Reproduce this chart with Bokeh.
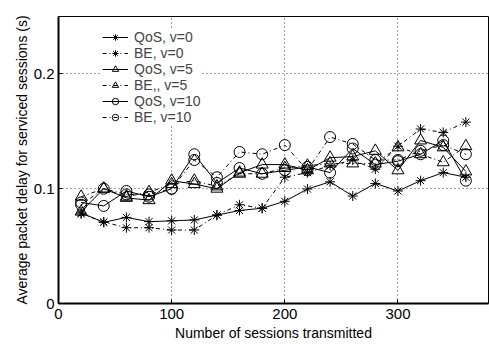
from bokeh.plotting import figure
from bokeh.models import FixedTicker, Range1d, Legend
from bokeh.embed import file_html
from bokeh.resources import INLINE

sessions = [20, 40, 60, 80, 100, 120, 140, 160, 180, 200, 220, 240, 260, 280, 300, 320, 340, 360]

qos_v0 = [0.079, 0.0707, 0.075, 0.0713, 0.072, 0.0728, 0.077, 0.081, 0.083, 0.089, 0.0997, 0.106, 0.0936, 0.1046, 0.098, 0.107, 0.114, 0.110]
be_v0 = [0.078, 0.071, 0.066, 0.066, 0.064, 0.064, 0.077, 0.086, 0.083, 0.110, 0.114, 0.120, 0.125, 0.117, 0.137, 0.152, 0.149, 0.158]
qos_v5 = [0.080, 0.100, 0.092, 0.090, 0.107, 0.104, 0.100, 0.114, 0.121, 0.121, 0.116, 0.127, 0.128, 0.133, 0.116, 0.142, 0.136, 0.115]
be_v5 = [0.093, 0.100, 0.093, 0.097, 0.104, 0.107, 0.102, 0.113, 0.113, 0.118, 0.120, 0.122, 0.122, 0.122, 0.136, 0.130, 0.123, 0.137]
qos_v10 = [0.088, 0.085, 0.098, 0.093, 0.100, 0.130, 0.105, 0.118, 0.113, 0.116, 0.119, 0.114, 0.135, 0.121, 0.124, 0.130, 0.142, 0.107]
be_v10 = [0.086, 0.100, 0.095, 0.095, 0.100, 0.125, 0.110, 0.132, 0.130, 0.138, 0.116, 0.145, 0.139, 0.125, 0.125, 0.133, 0.138, 0.130]

series = [
    ("QoS, v=0", qos_v0, "asterisk", "solid", 10),
    ("BE, v=0", be_v0, "asterisk", "4 3 1 3", 10),
    ("QoS, v=5", qos_v5, "triangle", "solid", 12),
    ("BE,, v=5", be_v5, "triangle", "4 3 1 3", 12),
    ("QoS, v=10", qos_v10, "circle", "solid", 11),
    ("BE, v=10", be_v10, "circle", "4 3 1 3", 11),
]

x_ticks = [0, 100, 200, 300]
y_ticks = [0, 0.1, 0.2]

FONT = "Liberation Sans"

p = figure(width=489, height=344, output_backend="svg", toolbar_location=None,
           x_range=Range1d(0, 380), y_range=Range1d(0, 0.25),
           min_border_left=58, min_border_right=1, min_border_top=16, min_border_bottom=41)

p.background_fill_color = "white"
p.border_fill_color = "white"
p.outline_line_color = "black"
p.outline_line_width = 1

items = []
for name, vals, marker, dash, sz in series:
    r1 = p.line(sessions, vals, line_color="black", line_width=1, line_dash=dash)
    r2 = p.scatter(sessions, vals, marker=marker, size=sz, line_color="black",
                   fill_color=None, line_width=1)
    items.append((name, [r1, r2]))

legend = Legend(items=items, location=(44, 178))
legend.background_fill_color = "white"
legend.background_fill_alpha = 1.0
legend.border_line_color = None
legend.label_text_font = FONT
legend.label_text_font_size = "14px"
legend.label_height = 16
legend.glyph_height = 16
legend.glyph_width = 26
legend.label_standoff = 6
legend.spacing = 0
legend.padding = 2
legend.margin = 0
p.add_layout(legend, "center")

for ax in (p.xaxis, p.yaxis):
    ax.axis_line_color = "black"
    ax.axis_line_width = 2
    ax.major_tick_in = 4
    ax.major_tick_out = 0
    ax.minor_tick_line_color = None
    ax.major_tick_line_color = "black"
    ax.major_label_text_font = FONT
    ax.major_label_text_font_size = "15px"
    ax.major_label_text_color = "black"
    ax.axis_label_text_font = FONT
    ax.axis_label_text_font_size = "14px"
    ax.axis_label_text_font_style = "normal"
    ax.axis_label_text_color = "black"

p.xaxis.ticker = FixedTicker(ticks=x_ticks)
p.yaxis.ticker = FixedTicker(ticks=y_ticks)
p.yaxis.major_label_overrides = {0: "0", 0.1: "0.1", 0.2: "0.2"}
p.xaxis.major_label_standoff = 5
p.yaxis.major_label_standoff = 4
p.xaxis.axis_label = "Number of sessions transmitted"
p.yaxis.axis_label = "Average packet delay for serviced sessions (s)"
p.xaxis.axis_label_standoff = 3
p.yaxis.axis_label_standoff = 1

p.xgrid.grid_line_color = "#444444"
p.ygrid.grid_line_color = "#444444"
p.xgrid.grid_line_dash = "1 3"
p.ygrid.grid_line_dash = "1 3"
p.xgrid.grid_line_width = 1
p.ygrid.grid_line_width = 1

open("out.html", "w").write(file_html(p, INLINE))
